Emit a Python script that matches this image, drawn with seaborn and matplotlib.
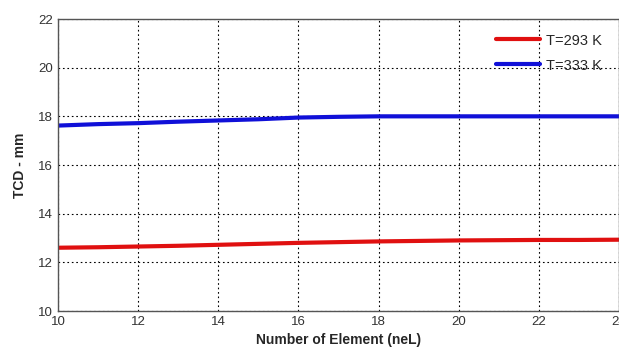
import matplotlib
matplotlib.use("Agg")
import matplotlib.pyplot as plt
import seaborn as sns
import pandas as pd

neL = [10, 11, 12, 13, 14, 15, 16, 17, 18, 19, 20, 21, 22, 23, 24]
tcd_293 = [12.60, 12.62, 12.65, 12.68, 12.72, 12.76, 12.80, 12.83, 12.86, 12.88, 12.90, 12.91, 12.92, 12.92, 12.93]
tcd_333 = [17.62, 17.68, 17.72, 17.78, 17.83, 17.88, 17.95, 17.98, 18.00, 18.00, 18.00, 18.00, 18.00, 18.00, 18.00]
series_names = ["T=293 K", "T=333 K"]
x_ticks = [10, 12, 14, 16, 18, 20, 22, 24]
y_ticks = [10, 12, 14, 16, 18, 20, 22]

df = pd.DataFrame({
    "neL": neL * 2,
    "TCD": tcd_293 + tcd_333,
    "series": [series_names[0]] * len(neL) + [series_names[1]] * len(neL),
})

sns.set_style("white")
plt.rcParams["font.family"] = ["Liberation Sans", "DejaVu Sans"]

fig = plt.figure(figsize=(6.19, 3.5), dpi=100)
W, H = 619, 350
ax = fig.add_axes([58 / W, 1 - 311 / H, (619 - 58) / W, (311 - 19) / H])

sns.lineplot(data=df, x="neL", y="TCD", hue="series",
             palette={series_names[0]: "#e01010", series_names[1]: "#1010d8"},
             linewidth=3, ax=ax, legend=True)

ax.set_xlim(10, 24)
ax.set_ylim(10, 22)
ax.set_xticks(x_ticks)
ax.set_yticks(y_ticks)
ax.tick_params(axis="both", labelsize=9.5, colors="#333333", length=3, direction="in")
ax.grid(True, linestyle=(0, (1.5, 2.5)), color="black", linewidth=0.8)
for s in ax.spines.values():
    s.set_color("#555555")
    s.set_linewidth(1)

ax.set_xlabel("Number of Element (neL)", fontsize=10, fontweight="bold", labelpad=4)
ax.set_ylabel("TCD - mm", fontsize=10, fontweight="bold", labelpad=8)

leg = ax.legend(loc="upper right", frameon=False, fontsize=10.5, handlelength=3.0,
                handletextpad=0.4, borderaxespad=0.6, labelspacing=0.75, title=None,
                bbox_to_anchor=(0.995, 1.0))

fig.savefig("out.png", dpi=100)
